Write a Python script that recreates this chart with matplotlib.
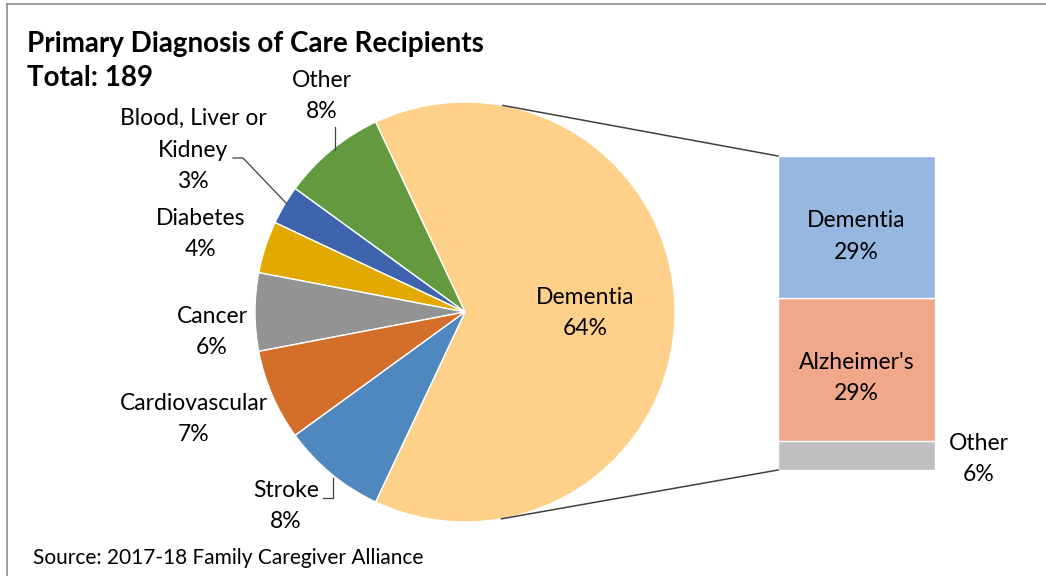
import numpy as np
import matplotlib.pyplot as plt
from matplotlib.lines import Line2D

plt.rcParams['font.family'] = ['Lato', 'DejaVu Sans']

# Dane - koło główne (przeciwnie do wskazówek, od Dementia)
pie_labels = ["Dementia", "Other", "Blood, Liver or\nKidney", "Diabetes", "Cancer", "Cardiovascular", "Stroke"]
pie_values = [64, 8, 3, 4, 6, 7, 8]
pie_colors = ["#FED08A", "#63993F", "#3D64AC", "#E2AA00", "#939393", "#D36E2B", "#4F88BE"]

# Dane - słupek rozbicia Dementia (od dołu)
bar_labels = ["Other", "Alzheimer's", "Dementia"]
bar_values = [6, 29, 29]
bar_colors = ["#BFBFBF", "#F0A78A", "#96B7DF"]

W, H = 1046, 576
fig = plt.figure(figsize=(W / 100, H / 100), dpi=100)


def fax(x, y, w, h):
    # prostokąt w pikselach (od góry) -> współrzędne figury
    return [x / W, 1 - (y + h) / H, w / W, h / H]


# Koło
R_PX = 210
cx, cy = 465, 312
ax_pie = fig.add_axes(fax(cx - R_PX, cy - R_PX, 2 * R_PX, 2 * R_PX))
start = 360 * pie_values[0] / 100 / 2
wedges, _ = ax_pie.pie(pie_values, colors=pie_colors, startangle=-start, counterclock=True,
                       wedgeprops=dict(edgecolor="white", linewidth=1))
ax_pie.set_xlim(-1, 1)
ax_pie.set_ylim(-1, 1)
ax_pie.set_aspect("equal")
ax_pie.axis("off")

# Słupek
bx, by, bw, bh = 778, 156, 157, 314
ax_bar = fig.add_axes(fax(bx, by, bw, bh))
bottom = 0
for lab, v, c in zip(bar_labels, bar_values, bar_colors):
    ax_bar.bar(0, v, bottom=bottom, width=1, color=c, edgecolor="white", linewidth=1)
    bottom += v
ax_bar.set_xlim(-0.5, 0.5)
ax_bar.set_ylim(0, sum(bar_values))
ax_bar.axis("off")

fs = 16.5
ls = 1.6
# Etykiety słupka
ax_bar.text(0, 29 + 6 + 29 / 2 - 1.9, "Dementia\n29%", ha="center", va="center", fontsize=fs, linespacing=ls)
ax_bar.text(0, 6 + 29 / 2 - 1.7, "Alzheimer's\n29%", ha="center", va="center", fontsize=fs, linespacing=ls)
ax_bar.text(0.78, 2.3, "Other\n6%", ha="center", va="center", fontsize=fs, linespacing=ls)

# Linie łączące - styczne do koła z narożników słupka
fig.canvas.draw()
to_fig = fig.transFigure.inverted()
c_disp = ax_pie.transData.transform((0, 0))
r_disp = ax_pie.transData.transform((1, 0))[0] - c_disp[0]
for corner, sign in [((-0.5, sum(bar_values)), 1), ((-0.5, 0), -1)]:
    p = ax_bar.transData.transform(corner)
    d = p - c_disp
    dist = np.hypot(*d)
    ang = np.arctan2(d[1], d[0]) + sign * np.arccos(r_disp / dist)
    t = c_disp + r_disp * np.array([np.cos(ang), np.sin(ang)])
    a, b = to_fig.transform(t), to_fig.transform(p)
    fig.add_artist(Line2D([a[0], b[0]], [a[1], b[1]], color="#404040", linewidth=1.1))

# Etykiety koła (pozycje w pikselach)
def ptxt(x, y, s):
    fig.text(x / W, 1 - y / H, s, ha="center", va="center", fontsize=fs, linespacing=ls)

ptxt(585, 313, "Dementia\n64%")
ptxt(322, 96, "Other\n8%")
ptxt(193, 150, "Blood, Liver or\nKidney\n3%")
ptxt(201, 234, "Diabetes\n4%")
ptxt(212, 332, "Cancer\n6%")
ptxt(194, 419, "Cardiovascular\n7%")
ptxt(286, 506, "Stroke\n8%")


def pline(xs, ys):
    fig.add_artist(Line2D([x / W for x in xs], [1 - y / H for y in ys], color="#404040", linewidth=0.9))

pline([335, 335], [127, 150])
pline([233, 243, 287], [158, 158, 204])
pline([323, 333, 333], [498, 498, 478])

# Tytuł i źródło
fig.text(27 / W, 1 - 44 / H, "Primary Diagnosis of Care Recipients", fontsize=20, fontweight="bold", va="center")
fig.text(27 / W, 1 - 78 / H, "Total: 189", fontsize=20, fontweight="bold", va="center")
fig.text(33 / W, 1 - 558 / H, "Source: 2017-18 Family Caregiver Alliance", fontsize=15, va="center")

# Ramka (góra i lewa)
fig.add_artist(Line2D([7 / W, 1], [1 - 4 / H, 1 - 4 / H], color="#8C8C8C", linewidth=1.2))
fig.add_artist(Line2D([7 / W, 7 / W], [1 - 4 / H, 0], color="#8C8C8C", linewidth=1.2))

fig.savefig("out.png", dpi=100)
